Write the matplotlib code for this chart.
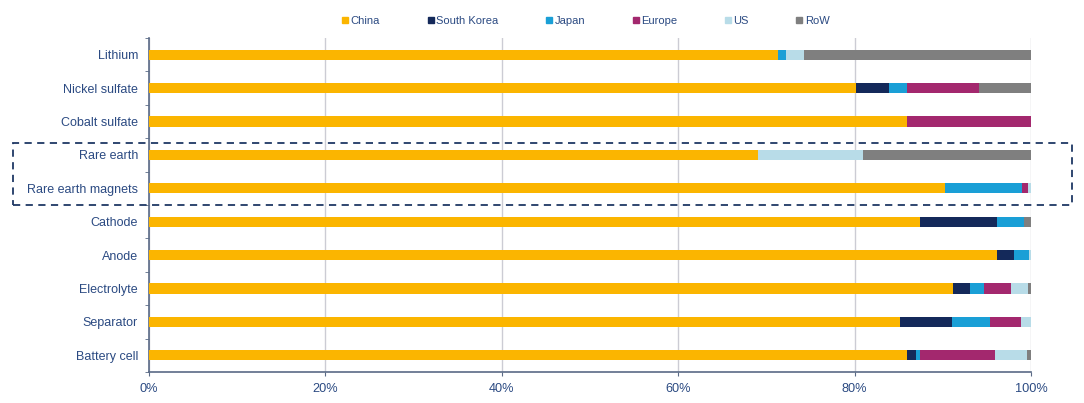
import numpy as np
import matplotlib
matplotlib.use("Agg")
import matplotlib.pyplot as plt
from matplotlib.lines import Line2D
from matplotlib.patches import Rectangle

plt.rcParams['font.family'] = ['Liberation Sans', 'DejaVu Sans']

categories = ['Lithium', 'Nickel sulfate', 'Cobalt sulfate', 'Rare earth',
              'Rare earth magnets', 'Cathode', 'Anode', 'Electrolyte',
              'Separator', 'Battery cell']
regions = ['China', 'South Korea', 'Japan', 'Europe', 'US', 'RoW']

china       = [71.3, 80.2, 85.9, 69.0, 90.2, 87.4, 96.2, 91.2, 85.2, 85.9]
south_korea = [0.0,  3.7,  0.0,  0.0,  0.0,  8.7,  1.9,  1.9,  5.8,  1.1]
japan       = [0.9,  2.0,  0.0,  0.0,  8.8,  3.1,  1.7,  1.6,  4.4,  0.4]
europe      = [0.0,  8.2, 14.1,  0.0,  0.7,  0.0,  0.0,  3.0,  3.5,  8.5]
us          = [2.1,  0.0,  0.0, 12.0,  0.3,  0.0,  0.2,  2.0,  1.1,  3.6]
row         = [25.7, 5.9,  0.0, 19.0,  0.0,  0.8,  0.0,  0.3,  0.0,  0.5]

colors = ['#FBB500', '#14295A', '#1A9FD6', '#A3286E', '#B8DCE8', '#7F7F7F']
text_col = '#2B4A82'

fig = plt.figure(figsize=(10.84, 4.03), dpi=100)
ax = fig.add_axes([149/1084, 1-372/403, 882/1084, 334/403])

series = [china, south_korea, japan, europe, us, row]
y = np.arange(len(categories))
left = np.zeros(len(categories))
for vals, c, name in zip(series, colors, regions):
    vals = np.array(vals)
    ax.barh(y, vals, left=left, height=0.3, color=c, label=name, zorder=3)
    left += vals

ax.set_xlim(0, 100)
ax.set_ylim(len(categories)-0.5, -0.5)
ax.set_xticks([0, 20, 40, 60, 80, 100])
ax.set_xticklabels(['0%', '20%', '40%', '60%', '80%', '100%'], color=text_col, fontsize=9.2)
ax.set_yticks(y)
ax.set_yticklabels(categories, color=text_col, fontsize=9)
ax.set_yticks(np.arange(-0.5, len(categories), 1), minor=True)
ax.tick_params(axis='y', which='major', length=0, pad=8)
ax.tick_params(axis='y', which='minor', length=3, color='#5A6A86')
ax.tick_params(axis='x', length=3, color='#5A6A86', pad=5)
ax.grid(axis='x', color='#CCCCD4', linewidth=1, zorder=0)
for s in ['top', 'right']:
    ax.spines[s].set_visible(False)
for s in ['left', 'bottom']:
    ax.spines[s].set_color('#5A6A86')
    ax.spines[s].set_linewidth(1.2)

handles = [Line2D([], [], marker='s', linestyle='', color=c, markersize=4) for c in colors]
fig.legend(handles, regions, loc='center', bbox_to_anchor=(586/1084, 1-21/403),
           ncol=6, frameon=False, fontsize=8, handlelength=0.5, handletextpad=0.25,
           columnspacing=4.3, labelcolor=text_col)

# dashed box around rare earth rows
box = Rectangle((13/1084, 1-205/403), (1072-13)/1084, (205-143)/403,
                transform=fig.transFigure, fill=False, edgecolor='#1F3864',
                linestyle=(0, (4, 3)), linewidth=1.3, clip_on=False)
fig.patches.append(box)

fig.savefig('out.png', dpi=100)
